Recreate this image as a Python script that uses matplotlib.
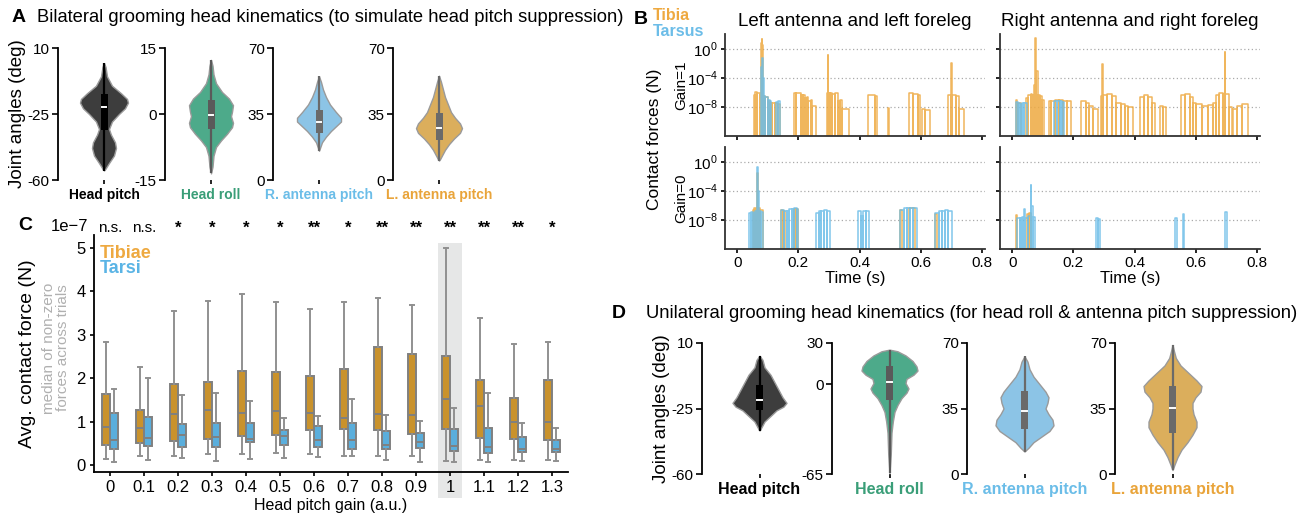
import numpy as np
import matplotlib
matplotlib.use('Agg')
import matplotlib.pyplot as plt
from matplotlib.patches import Rectangle
import matplotlib.transforms as mtransforms
from matplotlib.ticker import NullLocator

plt.rcParams['font.family'] = ['Liberation Sans', 'DejaVu Sans']
plt.rcParams['mathtext.fontset'] = 'custom'
plt.rcParams['mathtext.rm'] = 'Liberation Sans'
plt.rcParams['axes.linewidth'] = 1.3

W, H = 1306, 517

# ---------------- data ----------------
joint_names = ['Head pitch', 'Head roll', 'R. antenna pitch', 'L. antenna pitch']

# panel A violins: (angle, half width in px)
a_pitch_y = [2, 0, -5, -10, -14, -17, -19, -22, -25, -29, -33, -36, -40, -43, -47, -51, -54, -55]
a_pitch_w = [0, 1.5, 3, 8, 17, 23, 24, 21, 15, 8, 5, 7, 11, 12, 10, 5, 1.5, 0]
a_roll_y = [12.3, 11, 9, 7, 5, 3.5, 2, 0.5, -0.5, -2, -3, -4.5, -6, -7.5, -9.5, -12, -13.5]
a_roll_w = [0, 1.5, 2.5, 5, 11, 18, 22, 21, 20, 22, 21, 16, 10, 5, 2.5, 1.5, 0]
a_rant_y = [55, 52, 48, 44, 40, 36, 33, 31, 29, 26, 23, 20, 17, 15.5]
a_rant_w = [0, 2, 4, 7, 11, 17, 22, 22, 18, 12, 7, 3, 1, 0]
a_lant_y = [55.3, 52, 48, 44, 40, 36, 33, 30, 27.5, 25, 22, 19, 16, 13, 11, 10.3]
a_lant_w = [0, 2, 4, 6, 9, 12, 16, 21, 23, 21, 15, 10, 6, 3, 1, 0]
a_q1 = [-33.4, -3.5, 24.8, 21.3]
a_med = [-21.4, -0.2, 31.0, 27.8]
a_q3 = [-14.5, 3.2, 36.9, 35.4]

# panel D violins
d_pitch_y = [3.2, 1, -3, -7, -11, -15, -19, -22, -24, -26, -29, -32, -35, -36.8]
d_pitch_w = [0, 3, 5, 11, 15, 19, 23, 27, 24, 17, 11, 5, 2, 0]
d_roll_y = [25.2, 24, 21, 17, 13, 10, 7, 4, 1, -3, -6, -10, -15, -20, -27, -35, -50, -64.5]
d_roll_w = [0, 8, 16, 23, 27, 28, 24, 17, 16, 19, 17, 12, 8, 5, 3.3, 2, 1.3, 0]
d_rant_y = [62.9, 60, 56, 52, 48, 44, 41, 38, 35, 32, 29, 26, 23, 20, 17, 14, 12]
d_rant_w = [0, 3, 5, 9, 15, 21, 24, 23, 21, 24, 28, 29, 25, 17, 9, 4, 0]
d_lant_y = [69, 66, 62, 58, 54, 50, 47, 44, 41, 38, 35, 32, 28, 25, 21, 17, 13, 9, 5, 2.1]
d_lant_w = [0, 1.3, 3.3, 8, 16, 24, 29, 28, 23, 20, 20, 21, 24, 24, 20, 15, 9, 5, 2, 0]
d_q1 = [-25.7, -11.2, 23.9, 21.8]
d_med = [-20.4, 1.4, 33.4, 35.5]
d_q3 = [-12.3, 13.0, 44.1, 47.1]

a_ylims = [(-60, 10), (-15, 15), (0, 70), (0, 70)]
a_yticks = [[10, -25, -60], [15, 0, -15], [70, 35, 0], [70, 35, 0]]
d_ylims = [(-60, 10), (-65, 30), (0, 70), (0, 70)]
d_yticks = [[10, -25, -60], [30, 0, -65], [70, 35, 0], [70, 35, 0]]

# panel B contact bouts: (start s, end s, log10 force N)
tl_tibia = [(0.054, 0.058, -6.3), (0.058, 0.066, -5.85), (0.066, 0.074, -6.0), (0.074, 0.078, -6.3),
            (0.078, 0.080, 0.8), (0.080, 0.082, 1.4), (0.082, 0.085, 0.6), (0.085, 0.092, -6.5),
            (0.092, 0.099, -6.6), (0.099, 0.106, -7.2), (0.106, 0.113, -7.5), (0.115, 0.122, -7.5),
            (0.124, 0.131, -7.4), (0.133, 0.140, -7.6), (0.187, 0.193, -6.0), (0.193, 0.208, -6.1),
            (0.208, 0.214, -6.3), (0.214, 0.221, -6.4), (0.221, 0.227, -6.75), (0.227, 0.232, -6.6),
            (0.232, 0.240, -7.2), (0.240, 0.246, -7.0), (0.246, 0.257, -7.9), (0.293, 0.296, -6.1),
            (0.296, 0.298, -0.8), (0.298, 0.304, -6.1), (0.304, 0.311, -6.0), (0.311, 0.318, -6.2),
            (0.318, 0.328, -6.1), (0.328, 0.336, -7.2), (0.336, 0.344, -7.0), (0.344, 0.366, -8.3),
            (0.426, 0.450, -6.3), (0.450, 0.458, -6.5), (0.494, 0.496, -8.1), (0.560, 0.575, -6.1),
            (0.575, 0.590, -6.2), (0.590, 0.598, -6.4), (0.603, 0.615, -8.3), (0.615, 0.631, -8.4),
            (0.690, 0.700, -6.3), (0.700, 0.702, -1.9), (0.702, 0.715, -6.3), (0.715, 0.725, -6.5),
            (0.725, 0.740, -8.3)]
tl_tarsus = [(0.078, 0.081, -2.5), (0.081, 0.084, -1.25), (0.084, 0.086, -4.0), (0.086, 0.092, -6.5),
             (0.092, 0.100, -6.6), (0.100, 0.107, -7.0), (0.107, 0.112, -7.2), (0.128, 0.132, -7.3),
             (0.132, 0.139, -7.2)]
tr_tibia = [(0.011, 0.015, -7.0), (0.020, 0.028, -7.4), (0.046, 0.052, -6.8), (0.052, 0.060, -6.3),
            (0.060, 0.066, -6.2), (0.066, 0.072, -6.3), (0.072, 0.076, -5.0), (0.076, 0.079, 1.5),
            (0.079, 0.083, -3.0), (0.083, 0.090, -6.3), (0.090, 0.096, -6.5), (0.096, 0.104, -7.0),
            (0.120, 0.128, -7.2), (0.128, 0.140, -7.1), (0.140, 0.152, -7.0), (0.152, 0.165, -7.0),
            (0.165, 0.178, -7.1), (0.178, 0.191, -7.2), (0.226, 0.240, -7.2), (0.240, 0.250, -7.4),
            (0.250, 0.265, -7.9), (0.265, 0.279, -8.2), (0.289, 0.295, -6.5), (0.295, 0.297, -2.1),
            (0.297, 0.310, -6.3), (0.310, 0.325, -6.2), (0.325, 0.340, -6.5), (0.340, 0.355, -7.5),
            (0.355, 0.370, -7.6), (0.370, 0.380, -7.8), (0.380, 0.395, -8.0), (0.419, 0.430, -6.6),
            (0.430, 0.445, -6.4), (0.445, 0.458, -6.6), (0.458, 0.468, -7.5), (0.482, 0.492, -7.9),
            (0.492, 0.504, -8.0), (0.553, 0.565, -6.3), (0.565, 0.580, -6.2), (0.580, 0.592, -6.6),
            (0.592, 0.602, -7.5), (0.602, 0.620, -7.6), (0.620, 0.640, -7.9), (0.640, 0.655, -7.7),
            (0.655, 0.666, -7.4), (0.666, 0.676, -6.3), (0.676, 0.688, -6.1), (0.688, 0.694, -6.2),
            (0.694, 0.696, -0.4), (0.696, 0.708, -6.2), (0.710, 0.720, -8.0), (0.722, 0.735, -8.2),
            (0.735, 0.750, -7.9), (0.750, 0.771, -7.6)]
tr_tarsus = [(0.011, 0.018, -7.3), (0.018, 0.025, -7.5), (0.025, 0.032, -7.6), (0.032, 0.040, -7.5),
             (0.040, 0.049, -7.4), (0.137, 0.145, -7.2), (0.145, 0.155, -7.1), (0.155, 0.162, -7.2),
             (0.162, 0.169, -7.3)]
bl_tibia = [(0.050, 0.055, -6.6), (0.055, 0.060, -6.4), (0.060, 0.066, -6.5), (0.066, 0.068, -1.5),
            (0.068, 0.075, -6.4), (0.075, 0.084, -6.6), (0.143, 0.150, -6.6), (0.150, 0.157, -6.7),
            (0.186, 0.193, -6.5), (0.193, 0.199, -6.5), (0.532, 0.538, -6.6), (0.560, 0.580, -6.35),
            (0.647, 0.652, -7.1)]
bl_tarsus = [(0.040, 0.046, -7.0), (0.046, 0.052, -6.9), (0.052, 0.058, -7.0), (0.058, 0.064, -6.8),
             (0.064, 0.066, -3.0), (0.066, 0.068, -0.6), (0.068, 0.072, -4.0), (0.072, 0.078, -6.8),
             (0.078, 0.084, -6.9), (0.143, 0.152, -6.6), (0.152, 0.162, -6.8), (0.162, 0.170, -6.7),
             (0.170, 0.178, -6.5), (0.178, 0.186, -6.5), (0.186, 0.194, -6.4), (0.194, 0.200, -6.5),
             (0.257, 0.266, -7.0), (0.266, 0.275, -6.8), (0.275, 0.285, -6.7), (0.285, 0.295, -6.6),
             (0.295, 0.304, -6.7), (0.395, 0.405, -6.8), (0.405, 0.412, -7.5), (0.412, 0.422, -6.8),
             (0.422, 0.430, -6.8), (0.532, 0.545, -6.6), (0.545, 0.556, -6.4), (0.556, 0.566, -6.3),
             (0.566, 0.576, -6.3), (0.576, 0.587, -6.4), (0.647, 0.658, -7.0), (0.658, 0.668, -6.8),
             (0.668, 0.678, -6.7), (0.678, 0.690, -6.6), (0.690, 0.701, -6.8)]
br_tibia = [(0.011, 0.017, -7.3), (0.047, 0.054, -7.1), (0.054, 0.062, -7.0)]
br_tarsus = [(0.017, 0.024, -7.7), (0.024, 0.032, -7.7), (0.032, 0.040, -7.6), (0.040, 0.042, -6.5),
             (0.042, 0.052, -7.7), (0.052, 0.060, -7.5), (0.060, 0.062, -3.1), (0.062, 0.068, -6.0),
             (0.068, 0.076, -7.6), (0.273, 0.280, -7.7), (0.280, 0.286, -7.8), (0.532, 0.539, -7.7),
             (0.557, 0.563, -7.1), (0.694, 0.701, -6.9)]

# panel C boxes (x 1e-7 N)
gains = ['0', '0.1', '0.2', '0.3', '0.4', '0.5', '0.6', '0.7', '0.8', '0.9', '1', '1.1', '1.2', '1.3']
tib_lo = [0.15, 0.20, 0.22, 0.26, 0.26, 0.28, 0.25, 0.22, 0.20, 0.22, 0.10, 0.11, 0.11, 0.11]
tib_q1 = [0.46, 0.50, 0.55, 0.59, 0.68, 0.70, 0.80, 0.83, 0.81, 0.72, 0.82, 0.63, 0.60, 0.57]
tib_med = [0.88, 0.86, 1.17, 1.26, 1.21, 1.24, 1.19, 1.09, 1.17, 1.16, 1.53, 1.36, 1.00, 1.00]
tib_q3 = [1.63, 1.27, 1.87, 1.92, 2.16, 2.15, 2.06, 2.22, 2.73, 2.57, 2.52, 1.97, 1.55, 1.97]
tib_hi = [2.83, 2.26, 3.55, 3.77, 3.93, 3.76, 3.60, 3.76, 3.84, 3.69, 5.01, 3.39, 2.78, 2.84]
tar_lo = [0.08, 0.12, 0.17, 0.10, 0.13, 0.16, 0.19, 0.20, 0.12, 0.08, 0.08, 0.08, 0.09, 0.09]
tar_q1 = [0.38, 0.43, 0.42, 0.42, 0.53, 0.47, 0.41, 0.37, 0.36, 0.40, 0.33, 0.27, 0.29, 0.29]
tar_med = [0.58, 0.63, 0.70, 0.65, 0.61, 0.68, 0.57, 0.57, 0.47, 0.53, 0.43, 0.42, 0.38, 0.38]
tar_q3 = [1.19, 1.11, 0.95, 0.98, 0.96, 0.81, 0.89, 0.96, 0.79, 0.73, 0.84, 0.86, 0.65, 0.57]
tar_hi = [1.76, 2.00, 1.61, 1.65, 1.48, 1.09, 1.13, 1.52, 1.16, 1.02, 1.32, 1.67, 0.97, 0.85]
signif = ['n.s.', 'n.s.', '*', '*', '*', '*', '**', '*', '**', '**', '**', '**', '**', '*']
scale_c = 1e-7

# ---------------- styles ----------------
face_cols = ['#3d3d3d', '#4daa8a', '#8cc4e6', '#dbae5c']
label_cols = ['black', '#3a9e78', '#6bbde8', '#e9a43a']
box_cols = ['black', '#5a5a5a', '#6a6a6a', '#6a6a6a']
c_tib = '#eea940'
c_tar = '#6cbde8'


def ax_px(left, top, width, height):
    return fig.add_axes([left / W, 1 - (top + height) / H, width / W, height / H])


def draw_violin(ax, ys, ws, q1, med, q3, face, boxc, ppu):
    y = np.array(ys)
    w = np.array(ws) / ppu
    bw = 3.5 / ppu
    ax.fill_betweenx(y, -w, w, facecolor=face, edgecolor='#9a9a9a', lw=1.0, zorder=2)
    ax.plot([0, 0], [y.min(), y.max()], color=boxc, lw=1.6, zorder=3, solid_capstyle='butt')
    ax.add_patch(Rectangle((-bw, q1), 2 * bw, q3 - q1, facecolor=boxc, edgecolor='none', zorder=4))
    ax.plot([-0.7 * bw, 0.7 * bw], [med, med], color='white', lw=1.4, zorder=5)


def violin_row(lefts, top, height, offset, profs, q1s, meds, q3s, ylims, yticks, lab_size, ylab_x):
    for i, left in enumerate(lefts):
        ax = ax_px(left, top, 2 * offset, height)
        ys, ws = profs[i]
        draw_violin(ax, ys, ws, q1s[i], meds[i], q3s[i], face_cols[i], box_cols[i], offset)
        ax.set_xlim(-1, 1)
        ax.set_ylim(*ylims[i])
        ax.set_yticks(yticks[i])
        ax.set_yticklabels([str(t) for t in yticks[i]])
        ax.set_xticks([0])
        ax.set_xticklabels([joint_names[i]], color=label_cols[i], fontweight='bold', fontsize=lab_size)
        for s in ['top', 'right', 'bottom']:
            ax.spines[s].set_visible(False)
        ax.tick_params(axis='y', labelsize=11, length=4, width=1.2, pad=2)
        ax.tick_params(axis='x', length=3, width=1.2, pad=3)
        ax.patch.set_alpha(0)
        if i == 0:
            ax.set_ylabel('Joint angles (deg)', fontsize=13.5)
            ax.yaxis.set_label_coords(ylab_x, 0.5)


fig = plt.figure(figsize=(W / 100, H / 100), dpi=100)

# ---------------- panel A ----------------
fig.text(12 / W, 1 - 18 / H, 'A', fontsize=14, fontweight='bold', va='center')
fig.text(37 / W, 1 - 18 / H, 'Bilateral grooming head kinematics (to simulate head pitch suppression)',
         fontsize=13.2, va='center')
violin_row([58, 165, 273, 393], 48, 132, 46,
           [(a_pitch_y, a_pitch_w), (a_roll_y, a_roll_w), (a_rant_y, a_rant_w), (a_lant_y, a_lant_w)],
           a_q1, a_med, a_q3, a_ylims, a_yticks, 10, (26 - 58) / 92)

# ---------------- panel D ----------------
fig.text(619 / W, 1 - 313 / H, 'D', fontsize=14, fontweight='bold', va='center', ha='center')
fig.text(646 / W, 1 - 313 / H, 'Unilateral grooming head kinematics (for head roll & antenna pitch suppression)',
         fontsize=13.3, va='center')
violin_row([702, 832, 967, 1115], 343, 131, 57.5,
           [(d_pitch_y, d_pitch_w), (d_roll_y, d_roll_w), (d_rant_y, d_rant_w), (d_lant_y, d_lant_w)],
           d_q1, d_med, d_q3, d_ylims, d_yticks, 11.5, (670 - 702) / 115)

# ---------------- panel B ----------------
fig.text(641 / W, 1 - 20 / H, 'B', fontsize=14, fontweight='bold', va='center', ha='center')
fig.text(653 / W, 1 - 15 / H, 'Tibia', fontsize=11.5, fontweight='bold', color=c_tib, va='center')
fig.text(653 / W, 1 - 31 / H, 'Tarsus', fontsize=11.5, fontweight='bold', color=c_tar, va='center')


def bouts_to_path(bouts, floor=-14):
    t, y = [0.0], [floor]
    for t0, t1, lv in bouts:
        t += [t0, t0, t1, t1]
        y += [floor, lv, lv, floor]
    t.append(0.8)
    y.append(floor)
    return np.array(t), 10.0 ** np.array(y)


b_sets = [[(tl_tibia, tl_tarsus), (tr_tibia, tr_tarsus)],
          [(bl_tibia, bl_tarsus), (br_tibia, br_tarsus)]]
b_tops = [34, 147]
b_lefts = [725, 1000]
b_titles = ['Left antenna and left foreleg', 'Right antenna and right foreleg']
for r in range(2):
    for c in range(2):
        ax = ax_px(b_lefts[c], b_tops[r], 260, 102)
        tib, tar = b_sets[r][c]
        for yy in [1e0, 1e-4, 1e-8]:
            ax.axhline(yy, color='#aaaaaa', lw=0.9, ls=(0, (1, 2)), zorder=0)
        tt, ff = bouts_to_path(tib)
        ax.plot(tt, ff, color=c_tib, lw=1.1, alpha=0.85)
        tt, ff = bouts_to_path(tar)
        ax.plot(tt, ff, color=c_tar, lw=1.1, alpha=0.85)
        ax.set_yscale('log')
        ax.set_ylim(1e-12, 10 ** 2.1)
        ax.set_xlim(-0.04, 0.81)
        ax.set_yticks([1e0, 1e-4, 1e-8])
        ax.yaxis.set_minor_locator(NullLocator())
        ax.set_xticks([0, 0.2, 0.4, 0.6, 0.8])
        for s in ['top', 'right']:
            ax.spines[s].set_visible(False)
        ax.spines['left'].set_color('#333333')
        ax.spines['bottom'].set_color('#333333')
        ax.tick_params(length=3, width=1.2, labelsize=11, pad=2)
        if c == 0:
            ax.set_yticklabels([r'$10^{0}$', r'$10^{-4}$', r'$10^{-8}$'])
            ax.set_ylabel('Gain=1' if r == 0 else 'Gain=0', fontsize=11)
            ax.yaxis.set_label_coords((688 - 725) / 260, 0.5)
        else:
            ax.set_yticklabels([])
        if r == 0:
            ax.set_xticklabels([])
            ax.set_title(b_titles[c], fontsize=13.5, pad=6)
        else:
            ax.set_xticklabels(['0', '0.2', '0.4', '0.6', '0.8'])
            ax.set_xlabel('Time (s)', fontsize=12, labelpad=1)
fig.text(655 / W, 1 - 139 / H, 'Contact forces (N)', fontsize=12.5, rotation=90, ha='center', va='center')

# ---------------- panel C ----------------
fig.text(18 / W, 1 - 226 / H, 'C', fontsize=14, fontweight='bold', va='center')
axc = ax_px(94, 235, 474, 237)
pos = np.arange(len(gains))
axc.add_patch(Rectangle((9.66, -0.76 * scale_c), 0.68, 5.87 * scale_c, facecolor='#e6e7e7',
                        edgecolor='none', clip_on=False, zorder=0))


def make_stats(lo, q1, med, q3, hi):
    return [dict(whislo=lo[i] * scale_c, q1=q1[i] * scale_c, med=med[i] * scale_c,
                 q3=q3[i] * scale_c, whishi=hi[i] * scale_c) for i in range(len(lo))]


for stats, off, col in [(make_stats(tib_lo, tib_q1, tib_med, tib_q3, tib_hi), -0.12, '#c9922c'),
                        (make_stats(tar_lo, tar_q1, tar_med, tar_q3, tar_hi), 0.12, '#5aaedc')]:
    axc.bxp(stats, positions=pos + off, widths=0.24, patch_artist=True, showfliers=False,
            capwidths=0.1,
            boxprops=dict(facecolor=col, edgecolor='#808080', lw=1.4),
            whiskerprops=dict(color='#909090', lw=1.4),
            capprops=dict(color='#909090', lw=1.4),
            medianprops=dict(color='#808080', lw=1.4), manage_ticks=False)

axc.set_xlim(-0.47, 13.47)
axc.set_ylim(-0.16 * scale_c, 5.3 * scale_c)
axc.set_xticks(pos)
axc.set_xticklabels(gains)
axc.set_yticks(np.arange(0, 6) * scale_c)
for s in ['top', 'right']:
    axc.spines[s].set_visible(False)
axc.tick_params(labelsize=12, length=3, width=1.2, pad=3)
off_txt = axc.yaxis.get_offset_text()
off_txt.set_fontsize(12)
off_txt.set_horizontalalignment('right')
off_txt.set_x(-0.012)
axc.set_xlabel('Head pitch gain (a.u.)', fontsize=11.5, labelpad=2)
axc.set_ylabel('Avg. contact force (N)', fontsize=14)
axc.yaxis.set_label_coords((36 - 94) / 474, 0.5)
fig.text(56 / W, 1 - 348 / H, 'median of non-zero\nforces across trials', fontsize=11, color='#b0b0b0',
         rotation=90, ha='center', va='center', linespacing=0.95)
trans = mtransforms.blended_transform_factory(axc.transData, axc.transAxes)
for i, s in enumerate(signif):
    axc.text(i, 1.03, s, transform=trans, ha='center', va='center',
             fontsize=11 if s == 'n.s.' else 12, fontweight='normal' if s == 'n.s.' else 'bold')
axc.text(0.012, 0.92, 'Tibiae', transform=axc.transAxes, color=c_tib, fontsize=13, fontweight='bold', va='center')
axc.text(0.012, 0.857, 'Tarsi', transform=axc.transAxes, color='#5ab4e5', fontsize=13, fontweight='bold', va='center')

fig.savefig('out.png', dpi=100)
